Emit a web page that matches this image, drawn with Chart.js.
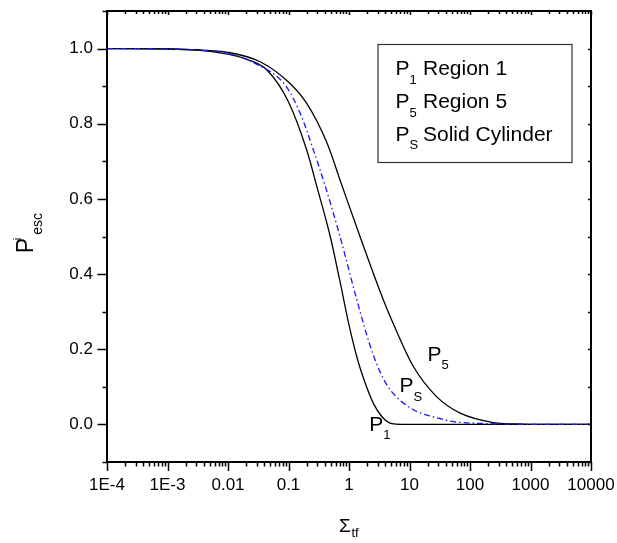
<!DOCTYPE html>
<html>
<head>
<meta charset="utf-8">
<script src="https://cdn.jsdelivr.net/npm/chart.js@4.4.0/dist/chart.umd.min.js"></script>
<style>
html, body { margin: 0; padding: 0; background: #fff; }
</style>
</head>
<body>
<canvas id="myChart" width="617" height="543"></canvas>
<script>
// escape probability curves
var sigmaP1 = [1e-4, 1e-3, 3e-3, 0.01, 0.02, 0.044, 0.1, 0.2, 0.3, 0.49, 0.7, 1.0, 1.4, 1.85, 2.53, 3.48, 5.1, 7.5, 10000];
var escP1   = [1.0, 0.999, 0.996, 0.985, 0.972, 0.943, 0.858, 0.73, 0.628, 0.5, 0.385, 0.265, 0.17, 0.11, 0.056, 0.021, 0.002, 0.0, 0.0];

var sigmaPS = [1e-4, 1e-3, 3e-3, 0.01, 0.0318, 0.088, 0.156, 0.258, 0.403, 0.71, 1.35, 2.23, 3.26, 4.8, 11.6, 25, 53, 200, 670, 10000];
var escPS   = [1.0, 0.999, 0.996, 0.987, 0.956, 0.903, 0.828, 0.73, 0.635, 0.5, 0.331, 0.21, 0.14, 0.092, 0.039, 0.02, 0.0075, 0.002, 0.0005, 0.0];

var sigmaP5 = [1e-4, 1e-3, 3e-3, 0.01, 0.034, 0.106, 0.2, 0.43, 0.76, 1.52, 3.7, 5.4, 11.6, 28, 69, 245, 670, 10000];
var escP5   = [1.0, 0.999, 0.997, 0.99, 0.965, 0.907, 0.854, 0.75, 0.637, 0.5, 0.331, 0.268, 0.154, 0.074, 0.03, 0.005, 0.001, 0.0];

var xTickValues = [1e-4, 1e-3, 0.01, 0.1, 1, 10, 100, 1000, 10000];
var xTickLabels = ['1E-4', '1E-3', '0.01', '0.1', '1', '10', '100', '1000', '10000'];
var yTickValues = [0, 0.2, 0.4, 0.6, 0.8, 1.0];
var yTickLabels = ['0.0', '0.2', '0.4', '0.6', '0.8', '1.0'];

var legendNames = ['Region 1', 'Region 5', 'Solid Cylinder'];
var legendSubs = ['1', '5', 'S'];

// curve tags: subscript and where the tag sits (data coords)
var tagSubs = ['1', 'S', '5'];
var tagX = [2.17, 6.81, 19.8];
var tagY = [-0.0165, 0.0856, 0.170];

var FONT = '"Liberation Sans", Arial, sans-serif';

function pts(xs, ys) {
  return xs.map(function (x, i) { return { x: x, y: ys[i] }; });
}

var decor = {
  id: 'decor',
  afterDraw: function (chart) {
    var ctx = chart.ctx;
    var a = chart.chartArea;
    var xs = chart.scales.x, ys = chart.scales.y;
    ctx.save();
    ctx.strokeStyle = '#000';

    // x ticks (bottom outward, top inward)
    ctx.lineWidth = 1.5;
    ctx.beginPath();
    for (var e = -4; e <= 4; e++) {
      for (var m = 1; m <= 9; m++) {
        var v = m * Math.pow(10, e);
        if (v > 10000.5) break;
        var px = Math.round(xs.getPixelForValue(v)) + 0.5;
        var len = m === 1 ? 9 : 4.5;
        ctx.moveTo(px, a.bottom); ctx.lineTo(px, a.bottom + len);
        ctx.moveTo(px, a.top); ctx.lineTo(px, a.top + (m === 1 ? 4 : 3));
      }
    }
    // y ticks (left outward, right inward)
    for (var k = -1; k <= 11; k++) {
      var py = Math.round(ys.getPixelForValue(k / 10)) + 0.5;
      var major = k % 2 === 0;
      ctx.moveTo(a.left, py); ctx.lineTo(a.left - (major ? 9.5 : 4.5), py);
      ctx.moveTo(a.right, py); ctx.lineTo(a.right - 3, py);
    }
    ctx.stroke();

    // frame
    ctx.lineWidth = 2;
    ctx.strokeRect(a.left, a.top, a.right - a.left, a.bottom - a.top);

    ctx.fillStyle = '#000';
    ctx.textAlign = 'left';
    ctx.textBaseline = 'alphabetic';

    // legend box
    var lx = a.right - 213, ly = a.top + 33.5;
    ctx.lineWidth = 1.2;
    ctx.strokeStyle = '#333';
    ctx.strokeRect(lx, ly, 194, 118);
    for (var i = 0; i < legendNames.length; i++) {
      var by = ly + 30.7 + i * 32.8;
      ctx.font = '21px ' + FONT;
      ctx.fillText('P', lx + 17.5, by);
      ctx.fillText(legendNames[i], lx + 45, by);
      ctx.font = '13px ' + FONT;
      ctx.fillText(legendSubs[i], lx + 31.5, by + 8.5);
    }

    // curve tags
    for (var j = 0; j < tagSubs.length; j++) {
      var tx = xs.getPixelForValue(tagX[j]);
      var ty = ys.getPixelForValue(tagY[j]);
      ctx.font = '21px ' + FONT;
      ctx.fillText('P', tx, ty);
      ctx.font = '13px ' + FONT;
      ctx.fillText(tagSubs[j], tx + 14, ty + 8.5);
    }

    // x title
    var cx = (a.left + a.right) / 2;
    ctx.font = '19px ' + FONT;
    ctx.fillText('\u03A3', cx - 10, 531.7);
    ctx.font = '13px ' + FONT;
    ctx.fillText('tf', cx + 2.5, 537);

    // y title
    ctx.translate(33.3, 253.3);
    ctx.rotate(-Math.PI / 2);
    ctx.font = '23px ' + FONT;
    ctx.fillText('P', 0, 0);
    ctx.font = '11px ' + FONT;
    ctx.fillText('i', 13, -12.5);
    ctx.font = '14px ' + FONT;
    ctx.fillText('esc', 18.5, 9);
    ctx.restore();
  }
};

var ctx = document.getElementById('myChart').getContext('2d');
var chart = new Chart(ctx, {
  type: 'line',
  data: {
    datasets: [{
      label: 'PS Solid Cylinder',
      data: pts(sigmaPS, escPS),
      borderColor: '#1515ff',
      borderWidth: 1.3,
      borderDash: [6, 3, 1.5, 3],
      cubicInterpolationMode: 'monotone'
    }, {
      label: 'P1 Region 1',
      data: pts(sigmaP1, escP1),
      borderColor: '#000',
      borderWidth: 1.3,
      cubicInterpolationMode: 'monotone'
    }, {
      label: 'P5 Region 5',
      data: pts(sigmaP5, escP5),
      borderColor: '#000',
      borderWidth: 1.3,
      cubicInterpolationMode: 'monotone'
    }]
  },
  options: {
    responsive: false,
    animation: false,
    devicePixelRatio: 1,
    layout: { padding: { left: 0, right: 26, top: 11, bottom: 0 } },
    elements: { point: { radius: 0 } },
    plugins: { legend: { display: false }, tooltip: { enabled: false } },
    scales: {
      x: {
        type: 'logarithmic',
        min: 1e-4,
        max: 1e4,
        afterBuildTicks: function (s) { s.ticks = xTickValues.map(function (v) { return { value: v }; }); },
        afterFit: function (s) { s.height = 81; s.paddingLeft = 0; s.paddingRight = 0; },
        grid: { display: false, drawTicks: false },
        border: { display: false },
        ticks: {
          autoSkip: false,
          maxRotation: 0,
          padding: 13,
          color: '#000',
          font: { size: 17, family: FONT },
          callback: function (v, i) { return xTickLabels[i]; }
        }
      },
      y: {
        type: 'linear',
        min: -0.1,
        max: 1.1,
        afterBuildTicks: function (s) { s.ticks = yTickValues.map(function (v) { return { value: v }; }); },
        afterFit: function (s) { s.width = 107; s.paddingTop = 0; s.paddingBottom = 0; },
        grid: { display: false, drawTicks: false },
        border: { display: false },
        ticks: {
          padding: 14,
          color: '#000',
          font: { size: 17, family: FONT },
          callback: function (v, i) { return yTickLabels[i]; }
        }
      }
    }
  },
  plugins: [decor]
});
</script>
</body>
</html>
